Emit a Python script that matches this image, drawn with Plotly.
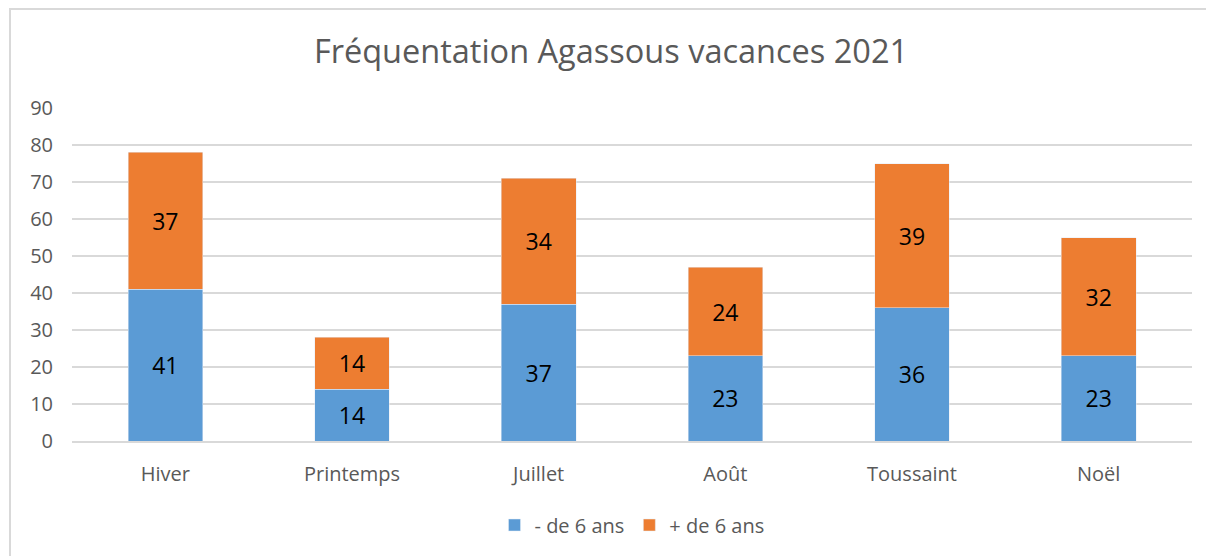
import plotly.graph_objects as go

categories = ["Hiver", "Printemps", "Juillet", "Août", "Toussaint", "Noël"]
moins_6 = [41, 14, 37, 23, 36, 23]
plus_6 = [37, 14, 34, 24, 39, 32]
y_ticks = [0, 10, 20, 30, 40, 50, 60, 70, 80, 90]

FONT = "Open Sans"
OFF = 8  # page body margin
W, H = 1214 - OFF, 556 - OFF
PL, PR, PT, PB = 72, 1192, 108, 441  # plot area, absolute page pixels
L = PL - OFF
R = (OFF + W) - PR
T = PT - OFF
B = (OFF + H) - PB
pw, ph = PR - PL, PB - PT

def px2x(px):
    return (px - PL) / pw

def py2y(py):
    return (PB - py) / ph

fig = go.Figure()
fig.add_bar(x=categories, y=moins_6, name="- de 6 ans", marker_color="#5b9bd5",
            text=moins_6, textposition="inside", insidetextanchor="middle",
            textfont=dict(color="black", size=23, family=FONT), textangle=0)
fig.add_bar(x=categories, y=plus_6, name="+ de 6 ans", marker_color="#ed7d31",
            text=plus_6, textposition="inside", insidetextanchor="middle",
            textfont=dict(color="black", size=23, family=FONT), textangle=0)

fig.update_layout(
    barmode="stack",
    bargap=0.6,
    width=W, height=H,
    margin=dict(l=L, r=R, t=T, b=B),
    paper_bgcolor="white", plot_bgcolor="white",
    font=dict(family=FONT, color="#595959", size=20),
    title=dict(text="Fréquentation Agassous vacances 2021", x=0.5, xanchor="center",
               y=1 - (52 - OFF) / H, yanchor="middle",
               font=dict(size=32.5, color="#595959", family=FONT)),
    legend=dict(orientation="h", x=0.5, xanchor="center", y=py2y(525), yanchor="middle",
                font=dict(size=20, color="#595959", family=FONT), traceorder="normal"),
    uniformtext=dict(minsize=10, mode="show"),
)
fig.update_yaxes(range=[0, 90], tickvals=y_ticks, showgrid=True, gridcolor="#d9d9d9",
                 gridwidth=2, zeroline=False, showline=False, ticks="", ticklabelstandoff=18,
                 tickfont=dict(size=20, color="#595959"))
fig.update_xaxes(showgrid=False, showline=True, linecolor="#d9d9d9", linewidth=2,
                 ticks="", tickfont=dict(size=20, color="#595959"), ticklabelstandoff=14)

fig.add_shape(type="rect", xref="paper", yref="paper",
              x0=px2x(10), x1=px2x(1240), y0=py2y(9), y1=py2y(580),
              line=dict(color="#d9d9d9", width=2), fillcolor="rgba(0,0,0,0)", layer="below")

fig.write_html("out.html")
